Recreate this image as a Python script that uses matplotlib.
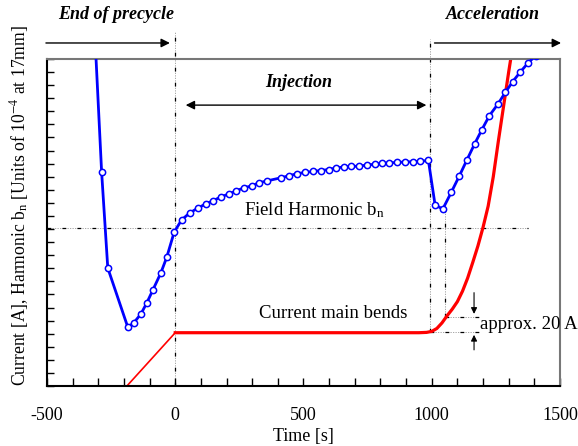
import matplotlib.pyplot as plt
import numpy as np

plt.rcParams['font.family'] = ['Liberation Serif', 'DejaVu Serif']
plt.rcParams['mathtext.fontset'] = 'stix'
plt.rcParams['axes.unicode_minus'] = False

# field harmonic b_n (blue, open circles)
bn_time = [-310, -287, -263, -185, -162, -134, -111, -87, -56, -33, -4, 25, 56, 88,
           119, 146, 177, 208, 236, 267, 298, 325, 356, 414, 443, 474, 504, 536,
           567, 598, 628, 657, 686, 716, 747, 777, 807, 835, 865, 896, 926, 956,
           987, 1013, 1043, 1076, 1108, 1137, 1167, 1195, 1225, 1258, 1287, 1316,
           1346, 1377, 1405]
bn_value = [102, 65.4, 36.1, 18.0, 19.3, 22.0, 25.4, 29.4, 34.6, 39.4, 47.1, 50.8,
            52.9, 54.4, 55.7, 56.6, 57.8, 58.7, 59.6, 60.6, 61.2, 62.1, 62.7, 63.7,
            64.3, 64.9, 65.3, 65.6, 65.9, 66.2, 66.7, 67.0, 67.2, 67.2, 67.6, 67.8,
            68.1, 68.2, 68.4, 68.5, 68.6, 68.7, 69.0, 55.4, 54.1, 59.2, 64.3, 69.1,
            74.0, 78.3, 82.7, 86.2, 89.8, 93.1, 96.1, 98.9, 101]

# current in main bends (red)
ramp_time = [-200, 0]
ramp_value = [-1.0, 16.3]
cur_time = [0, 500, 950, 980, 1000, 1020, 1040, 1060, 1080, 1100, 1120, 1140, 1160,
            1180, 1200, 1220, 1240, 1260, 1280, 1300, 1312]
cur_value = [16.3, 16.3, 16.3, 16.4, 16.7, 17.6, 19.3, 21.5, 23.5, 25.8, 29.0, 33.0,
             37.8, 42.8, 48.5, 55.0, 64.0, 75.0, 85.5, 96.0, 102]

fig = plt.figure(figsize=(5.78, 4.46), dpi=100)
ax = fig.add_axes([0.0813, 0.1345, 0.8875, 0.7332])
ax.set_xlim(-500, 1500)
ax.set_ylim(0, 100)

# reference lines (gray dotted with black dashes on top)
def ref_line(xs, ys):
    ax.plot(xs, ys, color='#999999', lw=0.6, ls=(0, (1.5, 1.5)), clip_on=False, zorder=1)
    ax.plot(xs, ys, color='black', lw=0.9, ls=(0, (3, 9)), clip_on=False, zorder=1)

ref_line([-500, 1375], [48.3, 48.3])
ref_line([0, 0], [0, 108.5])
ref_line([994, 994], [16.5, 106])
ref_line([1050, 1050], [21.2, 54.1])
ref_line([994, 1185], [16.5, 16.5])
ref_line([1050, 1185], [21.2, 21.2])

ax.plot(ramp_time, ramp_value, color='red', lw=1.2, zorder=2)
ax.plot(cur_time, cur_value, color='red', lw=2.3, zorder=2)
ax.plot(bn_time, bn_value, color='blue', lw=2, marker='o', ms=4.5,
        mfc='white', mec='blue', mew=1.1, zorder=3)

ax.text(543, 53.8, 'Field Harmonic b$_\\mathregular{n}$', fontsize=13.5, ha='center', va='center')
ax.text(614, 22.3, 'Current main bends', fontsize=13.5, ha='center', va='center')
ax.text(1188, 18.9, 'approx. 20 A', fontsize=13.5, ha='left', va='center')

# approx 20 A arrows
ax.annotate('', xy=(1165, 21.2), xytext=(1165, 29.4),
            arrowprops=dict(arrowstyle='-|>', color='black', lw=0.8, mutation_scale=9))
ax.annotate('', xy=(1165, 16.5), xytext=(1165, 10.2),
            arrowprops=dict(arrowstyle='-|>', color='black', lw=0.8, mutation_scale=9))

# phase arrows above the plot
arw = dict(arrowstyle='-|>', color='black', lw=1, mutation_scale=13)
ax.annotate('', xy=(-10, 104.9), xytext=(-515, 104.9), arrowprops=arw, annotation_clip=False)
ax.annotate('', xy=(1515, 104.9), xytext=(1000, 104.9), arrowprops=arw, annotation_clip=False)
ax.annotate('', xy=(30, 85.9), xytext=(990, 85.9),
            arrowprops=dict(arrowstyle='<|-|>', color='black', lw=1, mutation_scale=13),
            annotation_clip=False)
ax.text(-232, 113.5, 'End of precycle', fontsize=13, fontweight='bold', fontstyle='italic',
        ha='center', va='center')
ax.text(1237, 113.5, 'Acceleration', fontsize=13, fontweight='bold', fontstyle='italic',
        ha='center', va='center')
ax.text(481, 92.7, 'Injection', fontsize=13, fontweight='bold', fontstyle='italic',
        ha='center', va='center')

ax.set_xticks([-500, 0, 500, 1000, 1500])
ax.set_xticks(np.arange(-500, 1501, 100), minor=True)
ax.set_yticks(np.arange(0, 101, 4))
ax.set_yticklabels([])
ax.tick_params(axis='x', which='both', direction='in', length=6, width=1,
               labelsize=13, pad=15, top=False)
ax.tick_params(axis='y', which='both', direction='in', length=5, width=1, right=False)

for s in ['left', 'bottom']:
    ax.spines[s].set_linewidth(1.5)
for s in ['top', 'right']:
    ax.spines[s].set_color('#777777')
    ax.spines[s].set_linewidth(1.5)

ax.set_xlabel('Time [s]', fontsize=13, labelpad=3)
ax.set_ylabel('Current [A], Harmonic b$_\\mathregular{n}$ [Units of 10$^{-4}$ at 17mm]',
              fontsize=12.7)
ax.yaxis.set_label_coords(-0.031, 0.553)

fig.savefig('out.png', dpi=100)
